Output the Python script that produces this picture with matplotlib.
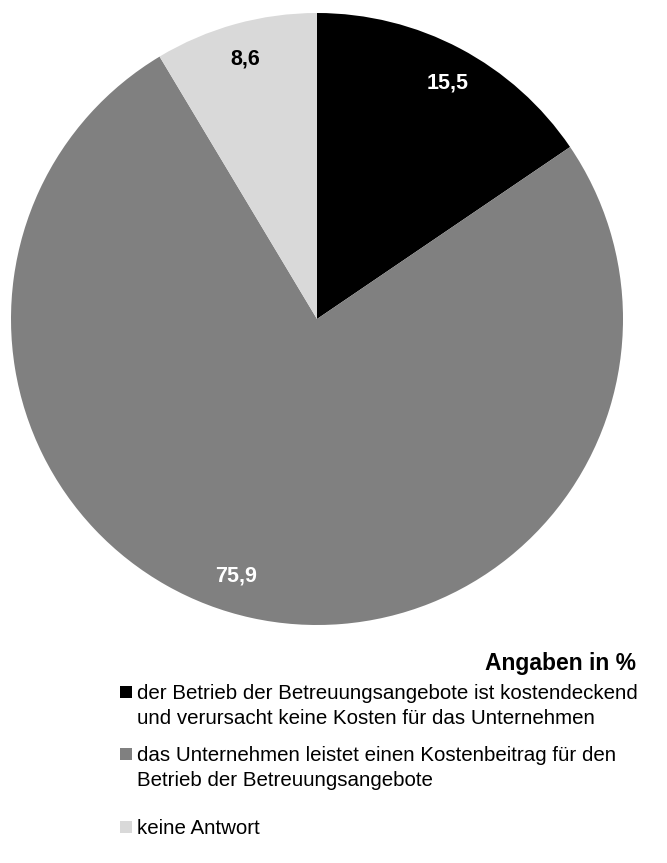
import numpy as np
import matplotlib.pyplot as plt
from matplotlib.patches import Rectangle

plt.rcParams['font.family'] = ['Liberation Sans', 'DejaVu Sans']

values = [15.5, 75.9, 8.6]
value_labels = ['15,5', '75,9', '8,6']
colors = ['#000000', '#808080', '#d9d9d9']
label_colors = ['white', 'white', 'black']
legend_labels = [
    'der Betrieb der Betreuungsangebote ist kostendeckend\nund verursacht keine Kosten für das Unternehmen',
    'das Unternehmen leistet einen Kostenbeitrag für den\nBetrieb der Betreuungsangebote',
    'keine Antwort',
]
note = 'Angaben in %'

W, H = 667, 863
fig = plt.figure(figsize=(W / 100, H / 100), dpi=100)

# pie: center (317, 319) px, radius 306 px
cx, cy, r = 317, 319, 306
ax = fig.add_axes([(cx - r) / W, (H - cy - r) / H, 2 * r / W, 2 * r / H])
wedges, texts, autotexts = ax.pie(values, colors=colors, startangle=90, counterclock=False,
                                  autopct='%1.1f', pctdistance=0.88, radius=1,
                                  wedgeprops=dict(linewidth=0))
# the big label sits a bit off the slice middle in the original
shift = [-1, -5, 0]
for t, w, lab, c, s in zip(autotexts, wedges, value_labels, label_colors, shift):
    a = np.deg2rad((w.theta1 + w.theta2) / 2 + s)
    t.set_position((0.88 * np.cos(a), 0.88 * np.sin(a)))
    t.set_text(lab)
    t.set_color(c)
    t.set_fontsize(15.5)
    t.set_fontweight('bold')
ax.set_xlim(-1, 1)
ax.set_ylim(-1, 1)
ax.set_aspect('auto')
ax.axis('off')

fig.text(636 / W, 1 - 670 / H, note, ha='right', va='baseline', fontsize=16.5, fontweight='bold')

# legend, drawn by hand so the square lines up with the first line
tops = [684, 746, 819]
for lab, c, y in zip(legend_labels, colors, tops):
    fig.text(137 / W, 1 - y / H, lab, ha='left', va='top', fontsize=14.8, linespacing=1.38)
    fig.patches.append(Rectangle((120 / W, 1 - (y + 14) / H), 12 / W, 12 / H,
                                 transform=fig.transFigure, facecolor=c, edgecolor='none'))

fig.savefig('out.png', dpi=100)
